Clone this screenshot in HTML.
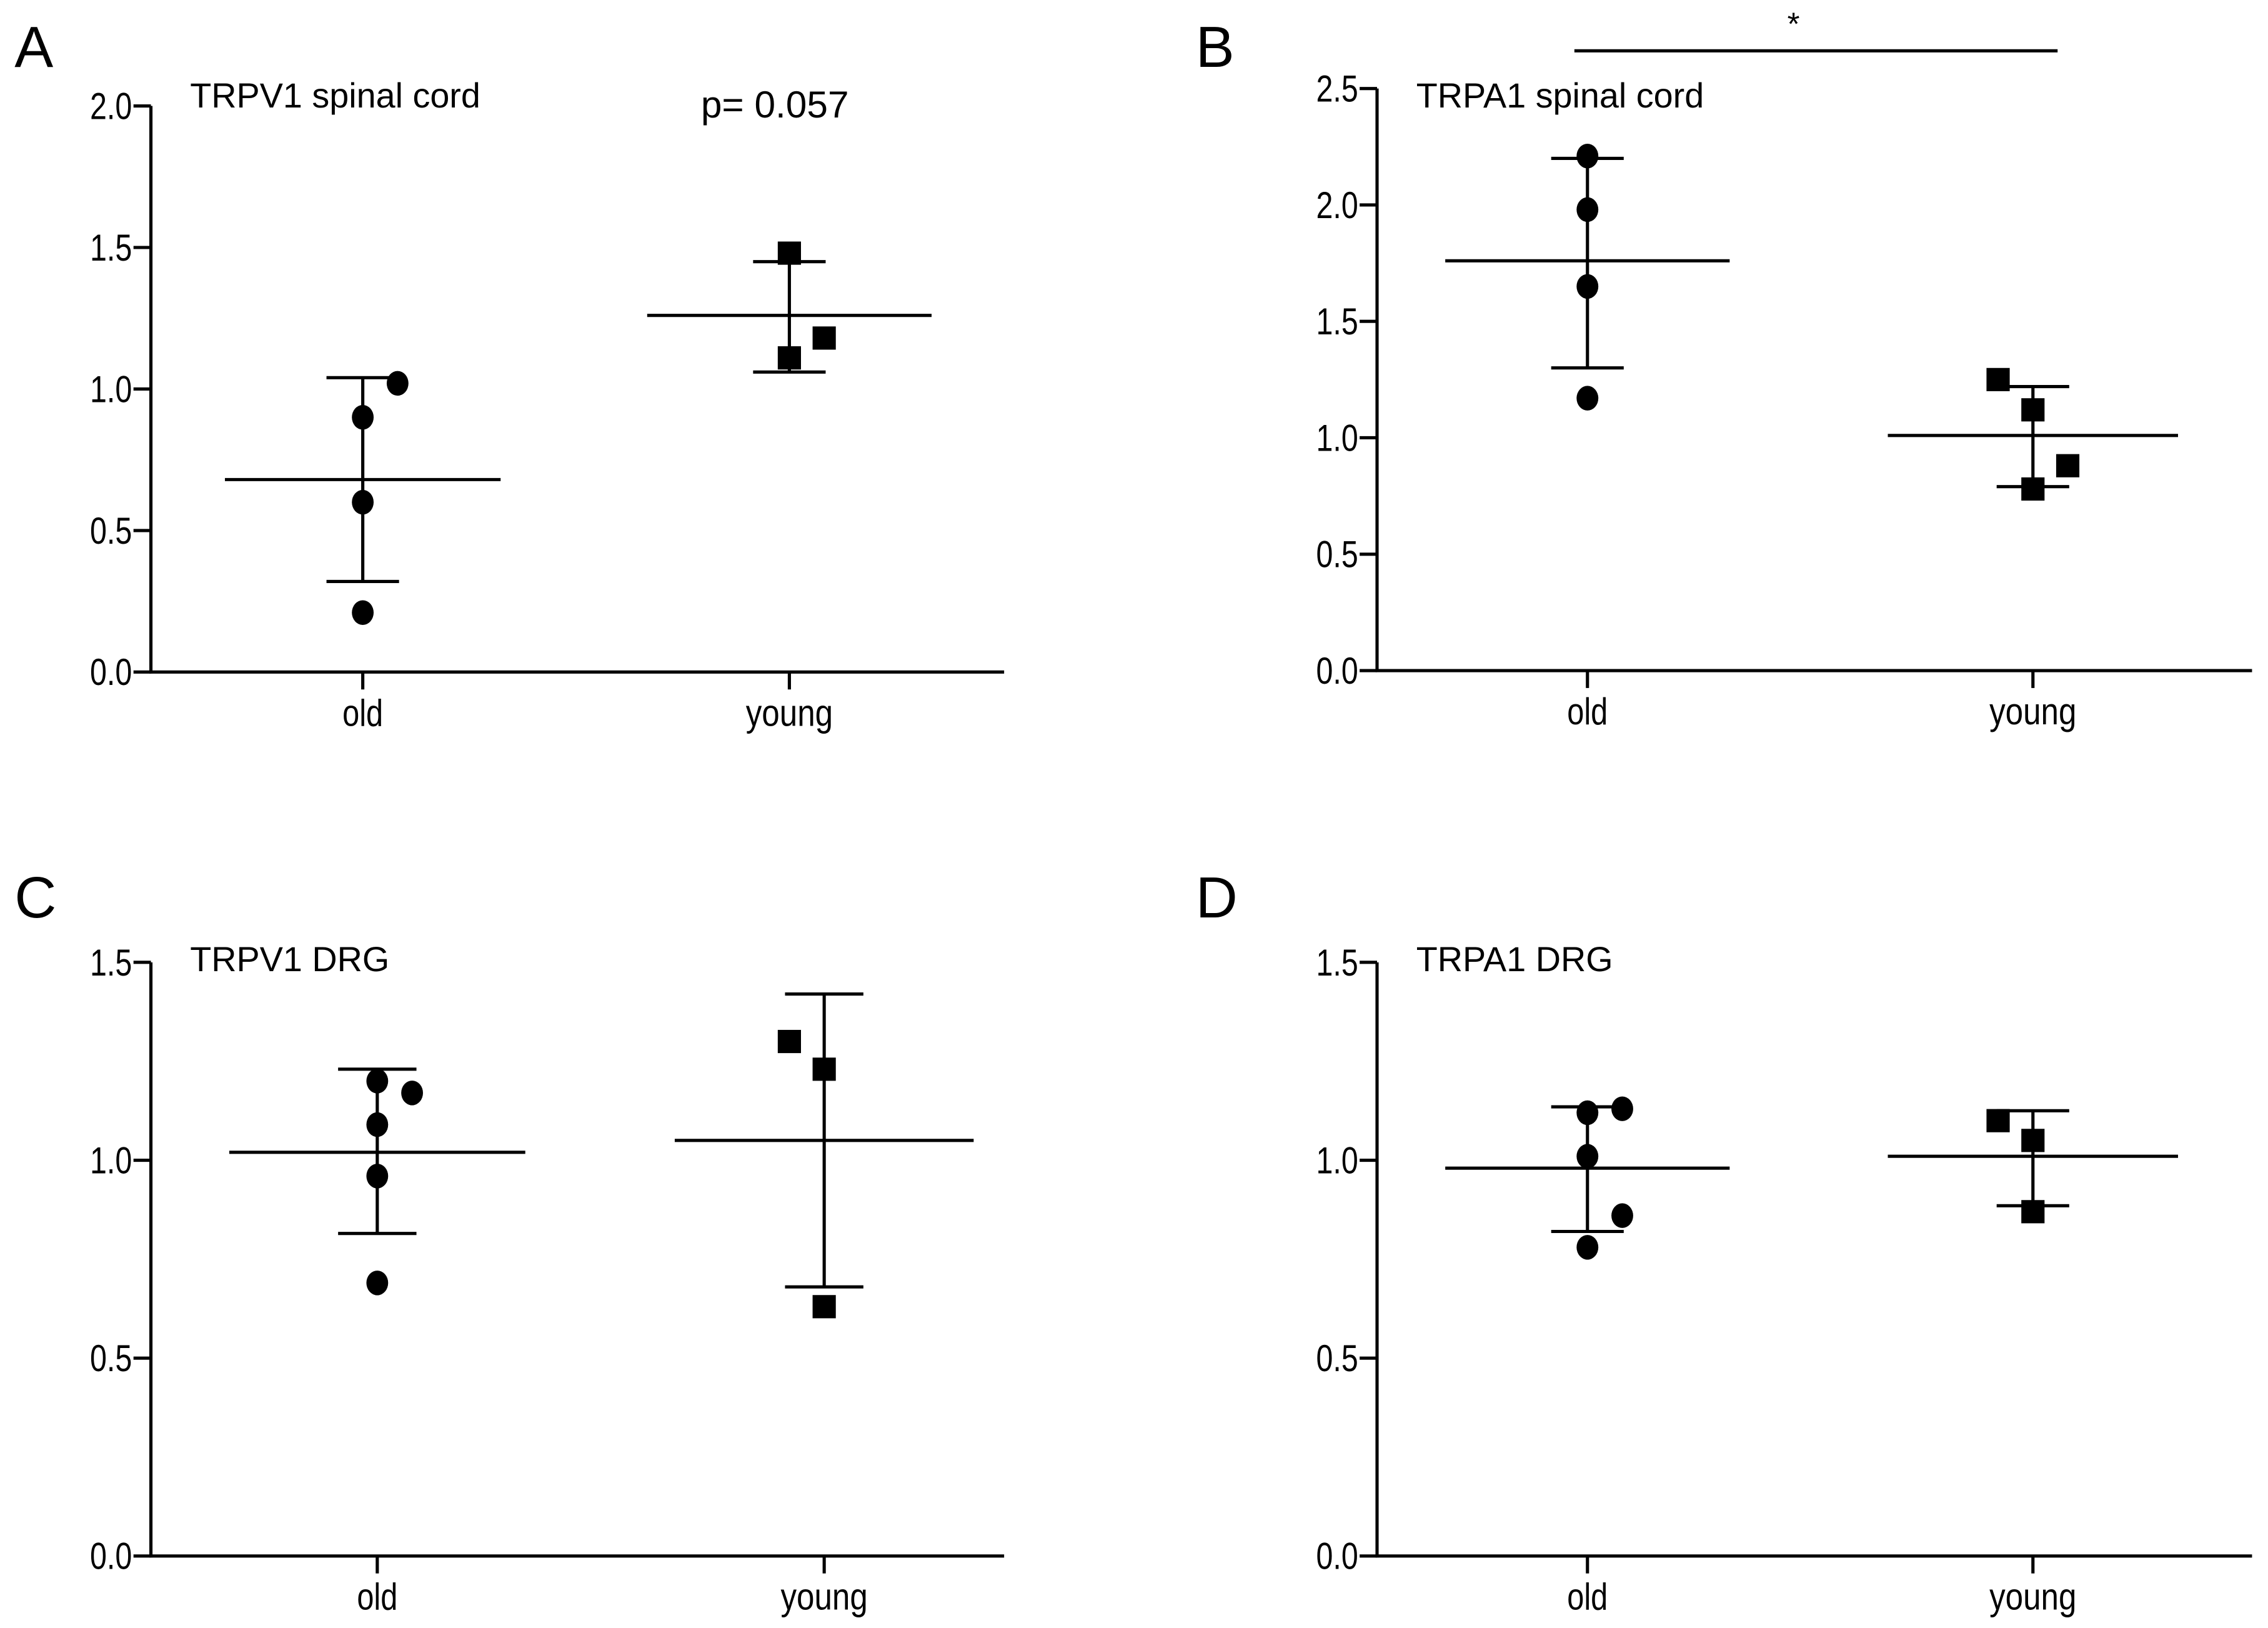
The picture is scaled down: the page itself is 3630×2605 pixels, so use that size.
<!DOCTYPE html>
<html><head><meta charset="utf-8"><style>
html,body{margin:0;padding:0;background:#fff;}
svg{display:block;}
text{font-family:"Liberation Sans Narrow","Liberation Sans",sans-serif;fill:#000;}
</style></head><body>
<svg id="fig" width="3630" height="2605" viewBox="0 0 1563 1121.6" preserveAspectRatio="none" xmlns="http://www.w3.org/2000/svg"></svg>
<script>
// Panel A: TRPV1 spinal cord
const aOld = [1.02, 0.90, 0.60, 0.21];
const aYoung = [1.48, 1.18, 1.11];
const aStats = [[0.68, 0.32, 1.04], [1.26, 1.06, 1.45]];
const aTicks = ["0.0","0.5","1.0","1.5","2.0"];
// Panel B: TRPA1 spinal cord
const bOld = [2.21, 1.98, 1.65, 1.17];
const bYoung = [1.25, 1.12, 0.88, 0.78];
const bStats = [[1.76, 1.30, 2.20], [1.01, 0.79, 1.22]];
const bTicks = ["0.0","0.5","1.0","1.5","2.0","2.5"];
// Panel C: TRPV1 DRG
const cOld = [1.20, 1.17, 1.09, 0.96, 0.69];
const cYoung = [1.30, 1.23, 0.63];
const cStats = [[1.02, 0.815, 1.23], [1.05, 0.68, 1.42]];
const cTicks = ["0.0","0.5","1.0","1.5"];
// Panel D: TRPA1 DRG
const dOld = [1.12, 1.13, 1.01, 0.86, 0.78];
const dYoung = [1.10, 1.05, 0.87];
const dStats = [[0.98, 0.82, 1.135], [1.01, 0.885, 1.125]];
const dTicks = ["0.0","0.5","1.0","1.5"];
const categories = ["old","young"];

const panels = [
 {letter:"A",lx:10,ly:46,title:"TRPV1 spinal cord",ty:74,ax:104,y0:463,yTop:73,xEnd:692,cx:[250,544],old:aOld,young:aYoung,stats:aStats,ticks:aTicks,oj:[1,0,0,0],yj:[0,1,0],ml:[95,98],cap:25,extra:"p"},
 {letter:"B",lx:824,ly:46,title:"TRPA1 spinal cord",ty:74,ax:949,y0:462,yTop:61,xEnd:1552,cx:[1094,1401],old:bOld,young:bYoung,stats:bStats,ticks:bTicks,oj:[0,0,0,0],yj:[-1,0,1,0],ml:[98,100],cap:25,extra:"star"},
 {letter:"C",lx:10,ly:632,title:"TRPV1 DRG",ty:669,ax:104,y0:1072,yTop:663,xEnd:692,cx:[260,568],old:cOld,young:cYoung,stats:cStats,ticks:cTicks,oj:[0,1,0,0,0],yj:[-1,0,0],ml:[102,103],cap:27},
 {letter:"D",lx:824,ly:632,title:"TRPA1 DRG",ty:669,ax:949,y0:1072,yTop:663,xEnd:1552,cx:[1094,1401],old:dOld,young:dYoung,stats:dStats,ticks:dTicks,oj:[0,1,0,1,0],yj:[-1,0,0],ml:[98,100],cap:25}
];
const NS="http://www.w3.org/2000/svg";
const svg=document.getElementById('fig');
function mk(tag,attrs,parent){const e=document.createElementNS(NS,tag);for(const k in attrs)e.setAttribute(k,attrs[k]);(parent||svg).appendChild(e);return e;}
function line(x1,y1,x2,y2,g,w){return mk('line',{x1,y1,x2,y2,stroke:'#000','stroke-width':w||2.2},g);}

panels.forEach((p,pi)=>{
 const g=mk('g',{});
 
 
 const maxV=parseFloat(p.ticks[p.ticks.length-1]);
 const y=v=>p.y0-(v/maxV)*(p.y0-p.yTop);
 const lt=mk('text',{x:p.lx,y:p.ly,'font-size':40,'font-family':'Liberation Sans, sans-serif'},g);lt.textContent=p.letter;
 
 
 const tt=mk('text',{x:p.ax+27,y:p.ty,'font-size':24,'font-family':'Liberation Sans, sans-serif'},g);tt.textContent=p.title;
 
 
 const ya=line(p.ax,p.yTop,p.ax,p.y0+1,g);
 
 
 const xa=line(p.ax-1,p.y0,p.xEnd,p.y0,g);
 
 
 p.ticks.forEach(t=>{
  const v=parseFloat(t),yy=y(v);
  line(p.ax-12,yy,p.ax,yy,g);
  const tx=mk('text',{x:p.ax-13,y:yy+9,'font-size':26,'text-anchor':'end',textLength:29,lengthAdjust:'spacingAndGlyphs'},g);tx.textContent=t;
  
  
 });
 categories.forEach((c,ci)=>{
  const x=p.cx[ci];
  line(x,p.y0,x,p.y0+12,g);
  const cl=mk('text',{x:x,y:p.y0+37,'font-size':26,'text-anchor':'middle',textLength:ci?60:28,lengthAdjust:'spacingAndGlyphs'},g);cl.textContent=c;
  
  
  const st=p.stats[ci];
  const ml=line(x-p.ml[ci],y(st[0]),x+p.ml[ci],y(st[0]),g);
  
  
  line(x,y(st[1]),x,y(st[2]),g);
  line(x-p.cap,y(st[1]),x+p.cap,y(st[1]),g);
  line(x-p.cap,y(st[2]),x+p.cap,y(st[2]),g);
  const vals=ci?p.young:p.old, jit=ci?p.yj:p.oj;
  vals.forEach((v,i)=>{
   const px=x+jit[i]*24,py=y(v);
   let m;
   if(ci===0){m=mk('ellipse',{cx:px,cy:py,rx:7.5,ry:8.5,fill:'#000'},g);}
   else{m=mk('rect',{x:px-8,y:py-8,width:16,height:16,fill:'#000'},g);}
   
   
  });
 });
 if(p.extra==="p"){
  const t=mk('text',{x:534,y:81,'font-size':26,'text-anchor':'middle','font-family':'Liberation Sans, sans-serif'},g);t.textContent="p= 0.057";
  
  
 }
 if(p.extra==="star"){
  const sl=line(1085,35,1418,35,g);
  
  
  const s=mk('text',{x:1236,y:24,'font-size':22,'text-anchor':'middle'},g);s.textContent="*";
  
  
 }
});
</script>
</body></html>
